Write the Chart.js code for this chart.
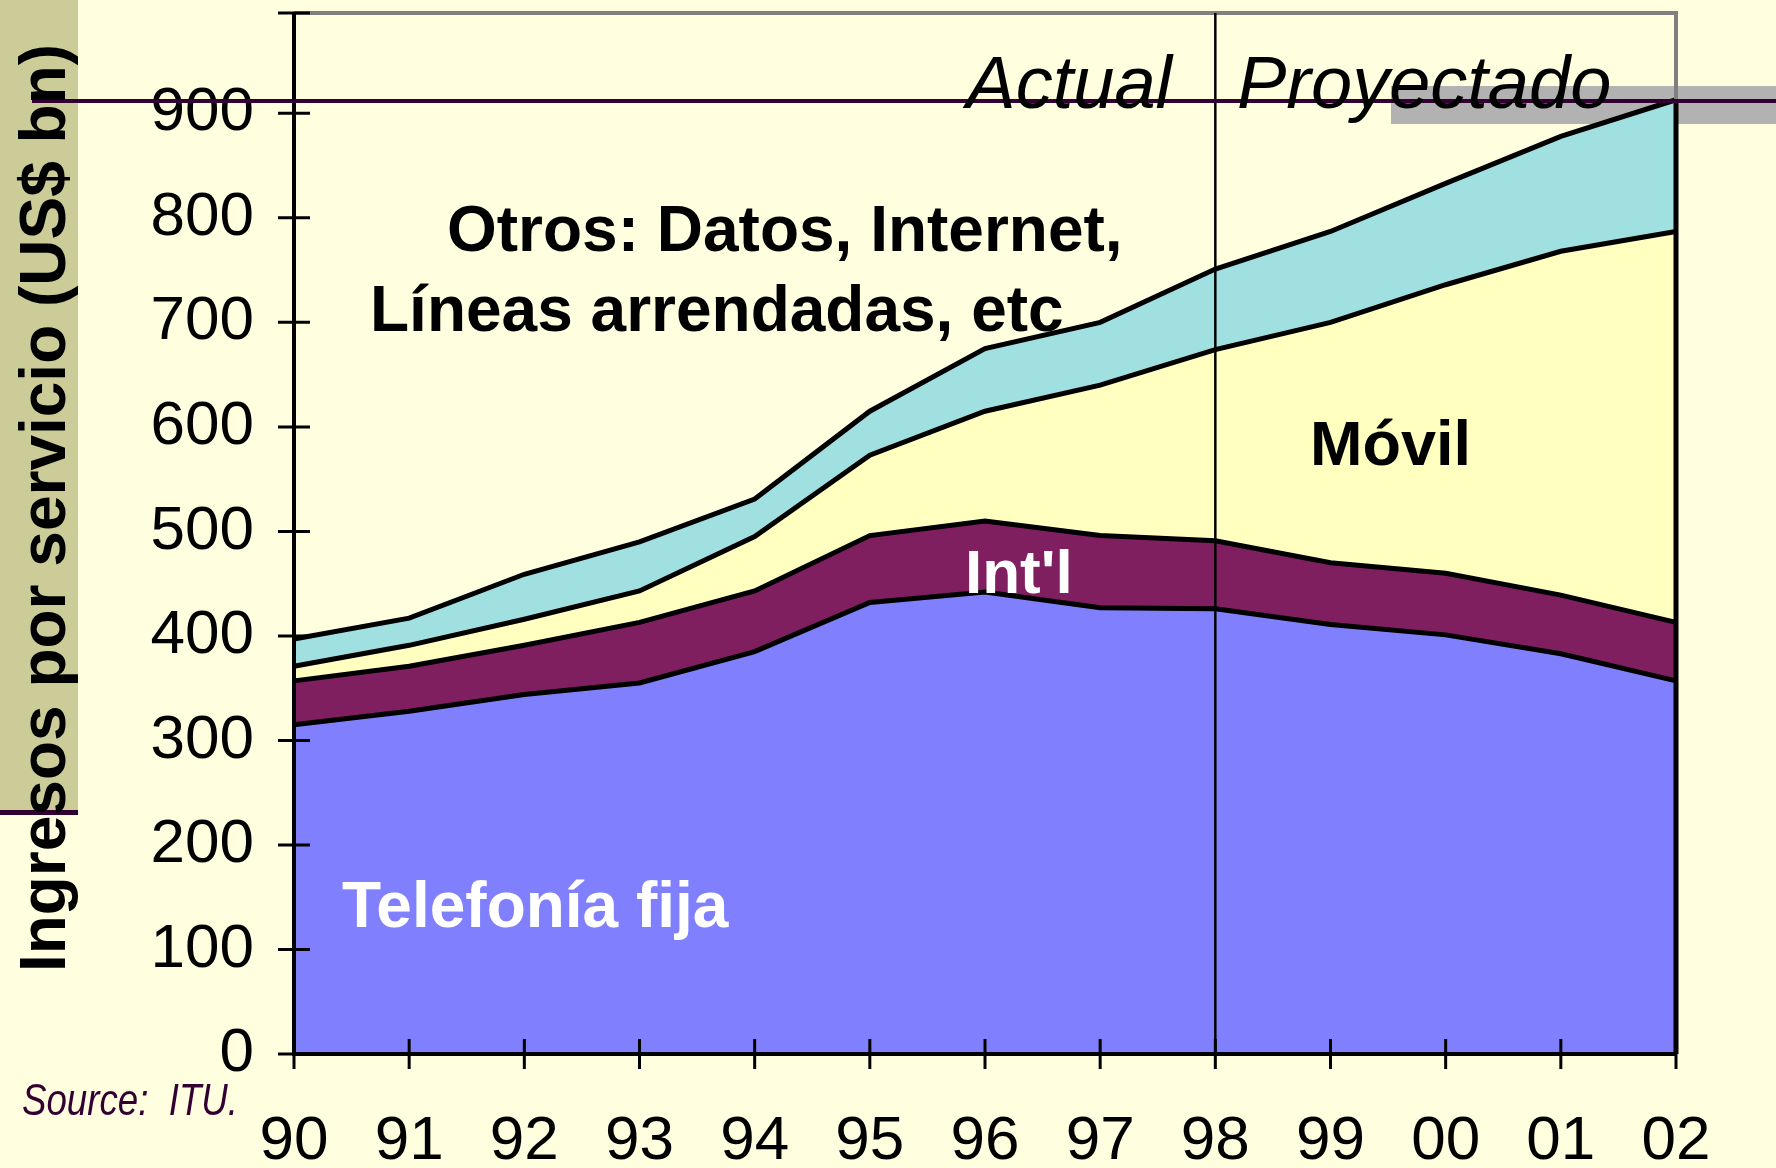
<!DOCTYPE html>
<html>
<head>
<meta charset="utf-8">
<script src="https://cdn.jsdelivr.net/npm/chart.js@4.4.1/dist/chart.umd.min.js"></script>
<style>
  html, body { margin: 0; padding: 0; background: #FFFFE0; }
  canvas { display: block; }
</style>
</head>
<body>
<canvas id="ingresos" width="1776" height="1168"></canvas>
<script>
// años (eje x)
var years = ['90','91','92','93','94','95','96','97','98','99','00','01','02'];
// marcas del eje y
var yTicks = [0, 100, 200, 300, 400, 500, 600, 700, 800, 900];

// ingresos por servicio, US$ bn
var telefoniaFija = [315, 328, 344, 355, 385, 432, 442, 427, 426, 411, 401, 383, 357];
var internacional = [42, 43, 47, 58, 58, 64, 68, 69, 65, 59, 59, 56, 56];
var movil         = [14, 20, 25, 30, 52, 77, 105, 144, 183, 230, 276, 329, 374];
var otros         = [26, 26, 43, 47, 36, 42, 60, 60, 77, 87, 97, 110, 126];

var FONT = '"Liberation Sans", Arial, Helvetica, sans-serif';
var BG = '#FFFFE0';

function drawText(ctx, txt, x, y, font, color, align){
  ctx.save();
  ctx.font = font;
  ctx.fillStyle = color;
  ctx.textAlign = align || 'left';
  ctx.textBaseline = 'alphabetic';
  ctx.fillText(txt, x, y);
  ctx.restore();
}

var decor = {
  id: 'decor',
  beforeDraw: function(chart){
    var ctx = chart.ctx;
    ctx.save();
    ctx.fillStyle = BG;
    ctx.fillRect(0, 0, chart.width, chart.height);
    // banda lateral
    ctx.fillStyle = '#CCCC99';
    ctx.fillRect(0, 0, 78, 813);
    ctx.fillStyle = '#330033';
    ctx.fillRect(0, 810, 78, 5);
    // barra gris a la derecha
    ctx.fillStyle = '#B2B2B2';
    ctx.fillRect(1391, 86, 385, 38);
    ctx.restore();
  },
  afterDatasetsDraw: function(chart){
    var ctx = chart.ctx;
    var a = chart.chartArea;
    var xs = chart.scales.x, ys = chart.scales.y;
    ctx.save();
    // marco gris
    ctx.strokeStyle = '#808080';
    ctx.lineWidth = 4;
    ctx.beginPath();
    ctx.moveTo(a.left, a.top);
    ctx.lineTo(a.right, a.top);
    ctx.lineTo(a.right, a.bottom);
    ctx.stroke();

    // borde derecho de las áreas
    var last = chart.getDatasetMeta(chart.data.datasets.length - 1).data;
    var pt = last[last.length - 1];
    ctx.strokeStyle = '#000';
    ctx.lineWidth = 5;
    ctx.beginPath();
    ctx.moveTo(a.right, pt.y);
    ctx.lineTo(a.right, a.bottom);
    ctx.stroke();

    // línea Actual / Proyectado en 98
    var x98 = xs.getPixelForValue(years.indexOf('98'));
    ctx.lineWidth = 2.5;
    ctx.beginPath();
    ctx.moveTo(x98, a.top);
    ctx.lineTo(x98, a.bottom);
    ctx.stroke();

    // ejes
    ctx.lineWidth = 4;
    ctx.beginPath();
    ctx.moveTo(a.left, a.top);
    ctx.lineTo(a.left, a.bottom);
    ctx.lineTo(a.right, a.bottom);
    ctx.stroke();

    // marcas que cruzan los ejes (incluye la del tope del eje)
    ctx.lineWidth = 3;
    ctx.beginPath();
    var yv = ys.ticks.map(function(t){ return t.value; }).concat([ys.max]);
    yv.forEach(function(v){
      var y = ys.getPixelForValue(v);
      ctx.moveTo(a.left - 16, y);
      ctx.lineTo(a.left + 16, y);
    });
    xs.ticks.forEach(function(t, i){
      var x = xs.getPixelForTick(i);
      ctx.moveTo(x, a.bottom - 15);
      ctx.lineTo(x, a.bottom + 15);
    });
    ctx.stroke();
    ctx.restore();
  },
  afterDraw: function(chart){
    var ctx = chart.ctx;
    ctx.save();
    // línea morada horizontal
    ctx.fillStyle = '#330033';
    ctx.fillRect(32, 99, 1744, 4);
    ctx.restore();

    drawText(ctx, 'Actual', 1172, 108, 'italic 74px ' + FONT, '#000', 'right');
    drawText(ctx, 'Proyectado', 1237, 108, 'italic 74px ' + FONT, '#000', 'left');
    drawText(ctx, 'Otros: Datos, Internet,', 447, 251, 'bold 64px ' + FONT, '#000');
    drawText(ctx, 'Líneas arrendadas, etc', 370, 331, 'bold 64px ' + FONT, '#000');
    drawText(ctx, 'Móvil', 1310, 465, 'bold 63px ' + FONT, '#000');
    drawText(ctx, "Int'l", 965, 593, 'bold 62px ' + FONT, '#FFFFFF');
    drawText(ctx, 'Telefonía fija', 342, 927, 'bold 64px ' + FONT, '#FFFFFF');

    // título del eje y
    ctx.save();
    ctx.translate(65, 508);
    ctx.rotate(-Math.PI / 2);
    ctx.font = 'bold 64px ' + FONT;
    ctx.fillStyle = '#000';
    ctx.textAlign = 'center';
    ctx.fillText('Ingresos por servicio (US$ bn)', 0, 0);
    ctx.restore();

    // fuente
    ctx.save();
    ctx.font = 'italic 44px ' + FONT;
    var w = ctx.measureText('Source:  ITU.').width;
    ctx.translate(22, 1115);
    ctx.scale(216 / w, 1);
    ctx.fillStyle = '#330033';
    ctx.fillText('Source:  ITU.', 0, 0);
    ctx.restore();
  }
};

function areaSet(label, data, color, fill){
  return {
    label: label,
    data: data,
    backgroundColor: color,
    borderColor: '#000000',
    borderWidth: 5,
    pointRadius: 0,
    tension: 0,
    fill: fill
  };
}

new Chart(document.getElementById('ingresos'), {
  type: 'line',
  data: {
    labels: years,
    datasets: [
      areaSet('Telefonía fija', telefoniaFija, '#8080FF', 'origin'),
      areaSet("Int'l", internacional, '#7F1F5F', '-1'),
      areaSet('Móvil', movil, '#FFFFC0', '-1'),
      areaSet('Otros', otros, '#A0E0E0', '-1')
    ]
  },
  options: {
    responsive: false,
    animation: false,
    devicePixelRatio: 1,
    layout: { padding: { top: 13, right: 100, bottom: 0, left: 0 } },
    plugins: {
      legend: { display: false },
      tooltip: { enabled: false }
    },
    scales: {
      x: {
        offset: false,
        grid: { display: false, drawTicks: false },
        border: { display: false },
        ticks: {
          color: '#000',
          font: { family: FONT, size: 62 },
          padding: 51,
          maxRotation: 0,
          autoSkip: false
        },
        afterFit: function(scale){
          scale.height = 114;
          scale.paddingLeft = 0;
          scale.paddingRight = 0;
        }
      },
      y: {
        stacked: true,
        min: 0,
        max: 996,
        grid: { display: false, drawTicks: false },
        border: { display: false },
        ticks: {
          autoSkip: false,
          color: '#000',
          font: { family: FONT, size: 62 },
          padding: 40
        },
        afterBuildTicks: function(scale){
          scale.ticks = yTicks.map(function(v){ return { value: v }; });
        },
        afterFit: function(scale){
          scale.width = 294;
          scale.paddingTop = 0;
          scale.paddingBottom = 0;
        }
      }
    }
  },
  plugins: [decor]
});
</script>
</body>
</html>
